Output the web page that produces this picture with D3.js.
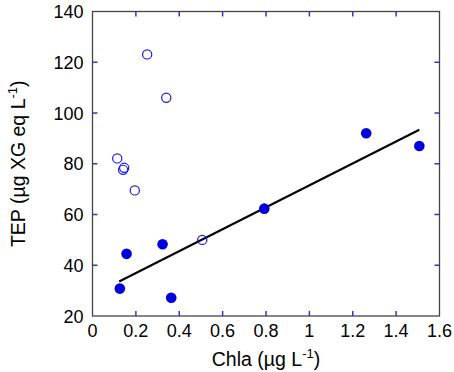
<!DOCTYPE html>
<html>
<head>
<meta charset="utf-8">
<script src="https://cdn.jsdelivr.net/npm/d3@7"></script>
<style>
  body { margin: 0; background: #fff; }
  text { font-family: "Liberation Sans", Arial, sans-serif; }
</style>
</head>
<body>
<div class="chart"></div>
<script>
// filled points (Chla, TEP)
var filledChla = [0.126, 0.157, 0.323, 0.363, 0.792, 1.262, 1.507];
var filledTep = [30.8, 44.5, 48.3, 27.2, 62.3, 92.0, 87.0];
// open points
var openChla = [0.114, 0.146, 0.141, 0.195, 0.252, 0.340, 0.506];
var openTep = [82.1, 78.4, 77.6, 69.5, 123.1, 106.0, 50.0];
// regression line end points
var lineChla = [0.123, 1.507];
var lineTep = [33.6, 93.4];

var xTicks = [0, 0.2, 0.4, 0.6, 0.8, 1, 1.2, 1.4, 1.6];
var yTicks = [20, 40, 60, 80, 100, 120, 140];

var margin = { top: 11.5, right: 14.5, bottom: 56, left: 92.5 },
    width = 454 - margin.left - margin.right,
    height = 372 - margin.top - margin.bottom;

var svg = d3.select(".chart")
    .append("svg")
    .attr("width", 454)
    .attr("height", 372);

var g = svg.append("g")
    .attr("transform", "translate(" + margin.left + "," + margin.top + ")");

var x = d3.scaleLinear().domain([0, 1.6]).range([0, width]);
var y = d3.scaleLinear().domain([20, 140]).range([height, 0]);

var tickColor = "#3333dd";
var tl = 5;

// inward ticks on all four sides
var inner = xTicks.slice(1, -1);
g.selectAll(".tb").data(inner).enter().append("line")
    .attr("x1", d => x(d)).attr("x2", d => x(d))
    .attr("y1", height).attr("y2", height - tl)
    .attr("stroke", tickColor).attr("stroke-width", 1.5);
g.selectAll(".tt").data(inner).enter().append("line")
    .attr("x1", d => x(d)).attr("x2", d => x(d))
    .attr("y1", 0).attr("y2", tl)
    .attr("stroke", tickColor).attr("stroke-width", 1.5);
var innerY = yTicks.slice(1, -1);
g.selectAll(".tl").data(innerY).enter().append("line")
    .attr("y1", d => y(d)).attr("y2", d => y(d))
    .attr("x1", 0).attr("x2", tl)
    .attr("stroke", tickColor).attr("stroke-width", 1.5);
g.selectAll(".tr").data(innerY).enter().append("line")
    .attr("y1", d => y(d)).attr("y2", d => y(d))
    .attr("x1", width).attr("x2", width - tl)
    .attr("stroke", tickColor).attr("stroke-width", 1.5);

// frame
g.append("rect")
    .attr("width", width).attr("height", height)
    .attr("fill", "none").attr("stroke", "#444").attr("stroke-width", 1.3);

// tick labels
g.selectAll(".xl").data(xTicks).enter().append("text")
    .attr("x", d => x(d)).attr("y", height + 21)
    .attr("text-anchor", "middle").attr("font-size", 18)
    .text(d => d);
g.selectAll(".yl").data(yTicks).enter().append("text")
    .attr("x", -9).attr("y", d => y(d) + 6.5)
    .attr("text-anchor", "end").attr("font-size", 18)
    .text(d => d);

// regression line
g.append("line")
    .attr("x1", x(lineChla[0])).attr("y1", y(lineTep[0]))
    .attr("x2", x(lineChla[1])).attr("y2", y(lineTep[1]))
    .attr("stroke", "#000").attr("stroke-width", 2);

// open circles
g.selectAll(".op").data(d3.range(openChla.length)).enter().append("circle")
    .attr("cx", i => x(openChla[i])).attr("cy", i => y(openTep[i]))
    .attr("r", 4.6)
    .attr("fill", "none").attr("stroke", "#1a1aee").attr("stroke-width", 1.2);

// filled circles
g.selectAll(".fp").data(d3.range(filledChla.length)).enter().append("circle")
    .attr("cx", i => x(filledChla[i])).attr("cy", i => y(filledTep[i]))
    .attr("r", 5.3)
    .attr("fill", "#0000dd");

// axis titles
var xt = svg.append("text")
    .attr("x", 266).attr("y", 366)
    .attr("text-anchor", "middle").attr("font-size", 19.5);
xt.append("tspan").text("Chla (µg L");
xt.append("tspan").attr("dy", -8).attr("font-size", 13).text("-1");
xt.append("tspan").attr("dy", 8).text(")");

var yt = svg.append("text")
    .attr("transform", "translate(25," + (margin.top + height / 2) + ") rotate(-90)")
    .attr("text-anchor", "middle").attr("font-size", 19.5);
yt.append("tspan").text("TEP (µg XG eq L");
yt.append("tspan").attr("dy", -8).attr("font-size", 13).text("-1");
yt.append("tspan").attr("dy", 8).text(")");
</script>
</body>
</html>
